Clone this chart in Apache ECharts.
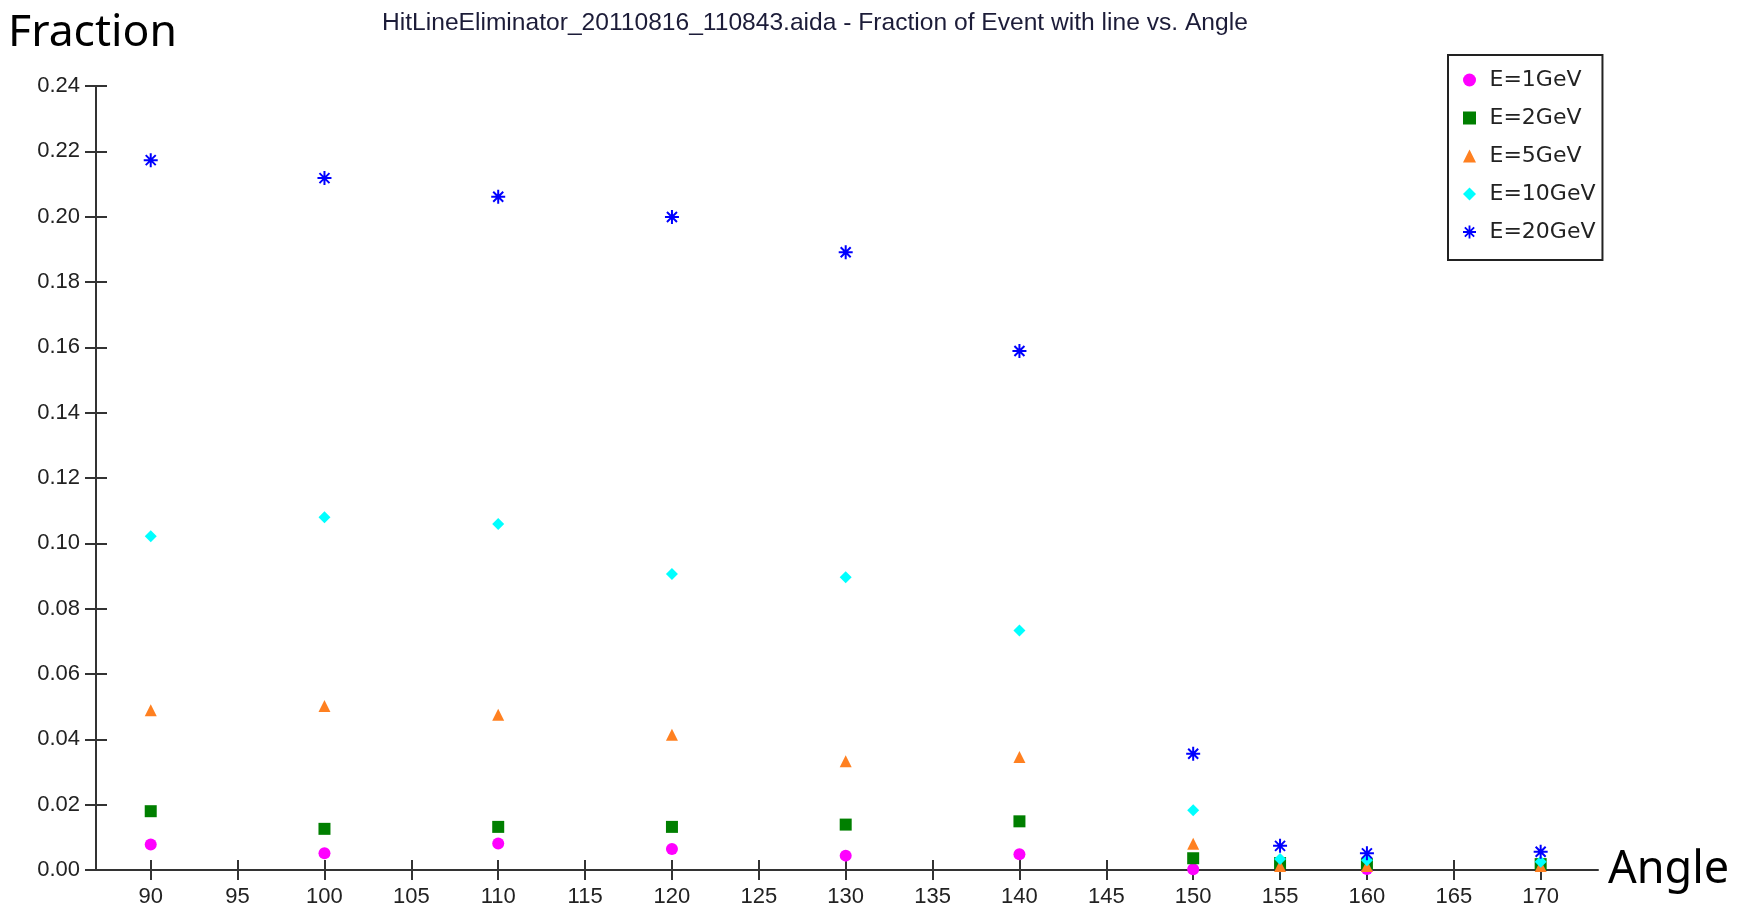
<!DOCTYPE html>
<html>
<head>
<meta charset="utf-8">
<script src="https://cdn.jsdelivr.net/npm/echarts@6/dist/echarts.min.js"></script>
<style>html,body{margin:0;padding:0;background:#fff;}#c{width:1737px;height:913px;}</style>
</head>
<body>
<div id="c"></div>
<script>
const angles = [90, 100, 110, 120, 130, 140, 150, 155, 160, 170];
const e1GeV  = [0.0078, 0.0051, 0.0081, 0.0064, 0.0044, 0.0048, 0.0002, null, 0.0003, null];
const e2GeV  = [0.0180, 0.0126, 0.0132, 0.0132, 0.0139, 0.0149, 0.0036, 0.0021, 0.0018, 0.0018];
const e5GeV  = [0.0489, 0.0502, 0.0475, 0.0414, 0.0333, 0.0346, 0.0080, 0.0012, 0.0012, 0.0012];
const e10GeV = [0.1022, 0.1080, 0.1059, 0.0906, 0.0896, 0.0733, 0.0183, 0.0034, 0.0030, 0.0025];
const e20GeV = [0.2173, 0.2118, 0.2061, 0.1999, 0.1891, 0.1589, 0.0356, 0.0074, 0.0051, 0.0056];
const seriesNames = ['E=1GeV', 'E=2GeV', 'E=5GeV', 'E=10GeV', 'E=20GeV'];
const xTicks = [90, 95, 100, 105, 110, 115, 120, 125, 130, 135, 140, 145, 150, 155, 160, 165, 170];
const titleText = 'HitLineEliminator_20110816_110843.aida - Fraction of Event with line vs. Angle';

const circlePath = 'circle';
const squarePath = 'path://M0 0L10 0L10 10L0 10Z';
const trianglePath = 'path://M5 0L10 10L0 10Z';
const diamondPath = 'path://M5 0L10 5L5 10L0 5Z';
const starPath = 'path://M-1 -7L1 -7L1 7L-1 7Z M-7 -1L7 -1L7 1L-7 1Z M-4.3 -5.7L5.7 4.3L4.3 5.7L-5.7 -4.3Z M4.3 -5.7L5.7 -4.3L-4.3 5.7L-5.7 4.3Z';
const symbols = [circlePath, squarePath, trianglePath, diamondPath, starPath];
const colors = ['#ff00ff', '#007f00', '#ff8020', '#00ffff', '#0000ff'];
const sizes = [12, 12, 12, 12, 14];
const dataSets = [e1GeV, e2GeV, e5GeV, e10GeV, e20GeV];

function pts(vals) { return angles.map((a, i) => [a, vals[i]]).filter(p => p[1] !== null); }

const chart = echarts.init(document.getElementById('c'), null, {renderer: 'canvas'});
const axisCol = '#333';
const labelFont = {color: '#222', fontSize: 22, fontFamily: 'Liberation Sans, Arial, sans-serif'};
const xMin = 86.85, xMax = 173.3;

chart.setOption({
  animation: false,
  title: {
    text: titleText, left: 377, top: 6,
    textStyle: {fontSize: 24.6, fontWeight: 'normal', color: '#1c1c38', fontFamily: 'Liberation Sans, Arial, sans-serif'}
  },
  legend: {
    orient: 'vertical', left: 1448, top: 55,
    padding: [14, 7, 17, 15], itemGap: 16, itemWidth: 30, itemHeight: 13,
    borderColor: '#222', borderWidth: 2, borderRadius: 0,
    textStyle: {fontSize: 22, color: '#222', fontFamily: 'DejaVu Sans, sans-serif'},
    data: seriesNames.map((n, i) => ({name: n, icon: symbols[i]}))
  },
  grid: {left: 96, right: 139, top: 86, bottom: 43, outerBoundsMode: 'none'},
  xAxis: [{
    type: 'value', min: xMin, max: xMax,
    name: 'Angle', nameLocation: 'end', nameGap: 10,
    nameTextStyle: {fontSize: 45, color: '#000', fontFamily: 'Noto Sans, sans-serif', verticalAlign: 'middle'},
    axisLine: {show: true, onZero: false, lineStyle: {color: axisCol, width: 2}},
    axisTick: {show: true, inside: false, length: 10, customValues: xTicks, lineStyle: {color: axisCol, width: 2}},
    axisLabel: Object.assign({show: true, margin: 16, customValues: xTicks}, labelFont),
    splitLine: {show: false}
  }, {
    type: 'value', min: xMin, max: xMax, position: 'bottom',
    axisLine: {show: false},
    axisTick: {show: true, inside: true, length: 10, customValues: xTicks, lineStyle: {color: axisCol, width: 2}},
    axisLabel: {show: false}, splitLine: {show: false}
  }],
  yAxis: [{
    type: 'value', min: 0, max: 0.24, interval: 0.02,
    name: 'Fraction', nameLocation: 'end', nameGap: 30,
    nameTextStyle: {fontSize: 44.5, color: '#000', fontFamily: 'Noto Sans, sans-serif', align: 'center', padding: [0, 7, 0, 0]},
    axisLine: {show: true, onZero: false, lineStyle: {color: axisCol, width: 2}},
    axisTick: {show: true, inside: false, length: 11, lineStyle: {color: axisCol, width: 2}},
    axisLabel: Object.assign({show: true, margin: 16, formatter: v => v.toFixed(2)}, labelFont),
    splitLine: {show: false}
  }, {
    type: 'value', min: 0, max: 0.24, interval: 0.02, position: 'left',
    axisLine: {show: false},
    axisTick: {show: true, inside: true, length: 11, lineStyle: {color: axisCol, width: 2}},
    axisLabel: {show: false}, splitLine: {show: false}
  }],
  series: seriesNames.map((n, i) => ({
    name: n, type: 'scatter', symbol: symbols[i], symbolSize: sizes[i],
    itemStyle: {color: colors[i], opacity: 1}, data: pts(dataSets[i])
  }))
});
</script>
</body>
</html>
